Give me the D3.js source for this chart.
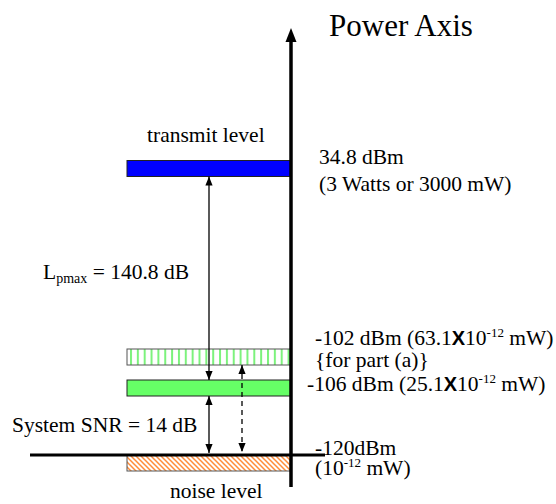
<!DOCTYPE html>
<html>
<head>
<meta charset="utf-8">
<script src="https://cdn.jsdelivr.net/npm/d3@7"></script>
<style>
  html, body { margin: 0; padding: 0; background: #fff; }
  svg { display: block; }
  text { font-family: "Liberation Serif", "Times New Roman", serif; fill: #000; }
</style>
</head>
<body>
<div id="chart"></div>
<script>
// ---- data ----
const levelNames  = ["transmit", "partA", "received", "noise"];
const levelValues = [34.8, -102, -106, -120];        // dBm
const levelFills  = ["solid-blue", "stripe-green", "solid-green", "hatch-orange"];
const levelMain   = ["34.8 dBm", "-102 dBm (63.1", "-106 dBm (25.1", "-120dBm"];
const levelSub    = ["(3 Watts or 3000 mW)", "{for part (a)}", "", "(10-12 mW)"];
const axisTitle   = "Power Axis";
const topLabel    = "transmit level";
const bottomLabel = "noise level";

// ---- layout ----
const W = 556, H = 504;
const svg = d3.select("#chart").append("svg").attr("width", W).attr("height", H);
const defs = svg.append("defs");

// schematic (piecewise) power scale
const y = d3.scaleLinear()
  .domain([-120, -106, -102, 34.8])
  .range([455, 380, 349, 160.5]);
const axisX = 291, barX0 = 127, barH = 16;

// patterns
const stripe = defs.append("pattern").attr("id", "stripe-green")
  .attr("patternUnits", "userSpaceOnUse").attr("width", 6.85).attr("height", 20).attr("x", barX0 + 3);
stripe.append("rect").attr("width", 6.85).attr("height", 20).attr("fill", "#fff");
stripe.append("rect").attr("x", 0).attr("width", 2).attr("height", 20).attr("fill", "#7cf27c");

const hatch = defs.append("pattern").attr("id", "hatch-orange")
  .attr("patternUnits", "userSpaceOnUse").attr("width", 5).attr("height", 5);
hatch.append("rect").attr("width", 5).attr("height", 5).attr("fill", "#fff");
hatch.append("path").attr("d", "M0,0L5,5M-1,4L1,6M4,-1L6,1")
  .attr("stroke", "#ff8d3a").attr("stroke-width", 1.5);

defs.append("marker").attr("id", "ah")
  .attr("viewBox", "0 0 10 10").attr("refX", 10).attr("refY", 5)
  .attr("markerWidth", 9).attr("markerHeight", 9).attr("markerUnits", "userSpaceOnUse")
  .attr("orient", "auto-start-reverse")
  .append("path").attr("d", "M0,1L10,5L0,9Z").attr("fill", "#000");

const fillOf = {
  "solid-blue": "#0000ff",
  "stripe-green": "url(#stripe-green)",
  "solid-green": "#66ff66",
  "hatch-orange": "url(#hatch-orange)"
};

const levels = levelNames.map((n, i) => ({
  name: n, v: levelValues[i], fill: levelFills[i], main: levelMain[i], sub: levelSub[i]
}));

// bars
svg.append("g").selectAll("rect").data(levels).join("rect")
  .attr("x", barX0).attr("y", d => y(d.v))
  .attr("width", axisX - barX0).attr("height", barH)
  .attr("fill", d => fillOf[d.fill])
  .attr("stroke", d => d.fill === "solid-blue" || d.fill === "solid-green" ? "#222" : "#555")
  .attr("stroke-width", 1);

// noise floor line
svg.append("line")
  .attr("x1", 30).attr("x2", 325)
  .attr("y1", y(-120)).attr("y2", y(-120))
  .attr("stroke", "#000").attr("stroke-width", 3);

// power axis
svg.append("line")
  .attr("x1", axisX).attr("x2", axisX)
  .attr("y1", 487).attr("y2", 40)
  .attr("stroke", "#000").attr("stroke-width", 3.5);
svg.append("path")
  .attr("d", `M${axisX},28L${axisX + 5.5},42L${axisX - 5.5},42Z`).attr("fill", "#000");

// measurement arrows
const v = Object.fromEntries(levels.map(d => [d.name, d.v]));
const arrows = [
  { x: 209, from: y(v.transmit) + barH, to: y(v.received), dash: null },
  { x: 209, from: y(v.received) + barH, to: y(v.noise) - 2, dash: null },
  { x: 242, from: y(v.partA) + barH, to: y(v.noise) - 3, dash: "5,4" }
];
svg.append("g").selectAll("line").data(arrows).join("line")
  .attr("x1", d => d.x).attr("x2", d => d.x)
  .attr("y1", d => d.from).attr("y2", d => d.to)
  .attr("stroke", "#000").attr("stroke-width", 1.3)
  .attr("stroke-dasharray", d => d.dash)
  .attr("marker-start", "url(#ah)").attr("marker-end", "url(#ah)");

// texts
const fs = 21.5;
svg.append("text").attr("x", 329).attr("y", 36).attr("font-size", 31).text(axisTitle);
svg.append("text").attr("x", 147).attr("y", y(v.transmit) - 19).attr("font-size", fs).text(topLabel);
svg.append("text").attr("x", 170).attr("y", y(v.noise) + 43).attr("font-size", fs).text(bottomLabel);

// L_pmax
const lp = svg.append("text").attr("x", 43).attr("y", 279).attr("font-size", fs);
lp.append("tspan").text("L");
lp.append("tspan").attr("font-size", 14).attr("dy", 4).text("pmax");
lp.append("tspan").attr("dy", -4).text(" = " + d3.format(".1f")(v.transmit - v.received) + " dB");

svg.append("text").attr("x", 12).attr("y", 432).attr("font-size", fs)
  .text("System SNR = " + d3.format("d")(v.received - v.noise) + " dB");

// right-side labels
const mainPos = { transmit: [319, 3], partA: [315, -4], received: [307, 11], noise: [315, 0] };
const subPos  = { transmit: [319, 30], partA: [315, 18], noise: [315, 20] };

function addSci(t, prefix) {
  // "(10-12 mW)" form
  t.append("tspan").text(prefix);
}

levels.forEach(d => {
  const [mx, mdy] = mainPos[d.name];
  const t = svg.append("text").attr("x", mx).attr("y", y(d.v) + mdy).attr("font-size", fs);
  t.append("tspan").text(d.main);
  if (d.name === "partA" || d.name === "received") {
    t.append("tspan").attr("font-family", "Liberation Sans, Arial, sans-serif")
      .attr("font-weight", "bold").attr("font-size", 20).text("X");
    t.append("tspan").text("10");
    t.append("tspan").attr("font-size", 13).attr("dy", -8).text("-12");
    t.append("tspan").attr("dy", 8).text(" mW)");
  }
  if (d.sub) {
    const [sx, sdy] = subPos[d.name];
    const s = svg.append("text").attr("x", sx).attr("y", y(d.v) + sdy).attr("font-size", fs);
    if (d.name === "noise") {
      s.append("tspan").text("(10");
      s.append("tspan").attr("font-size", 13).attr("dy", -8).text("-12");
      s.append("tspan").attr("dy", 8).text(" mW)");
    } else {
      s.append("tspan").text(d.sub);
    }
  }
});
</script>
</body>
</html>
